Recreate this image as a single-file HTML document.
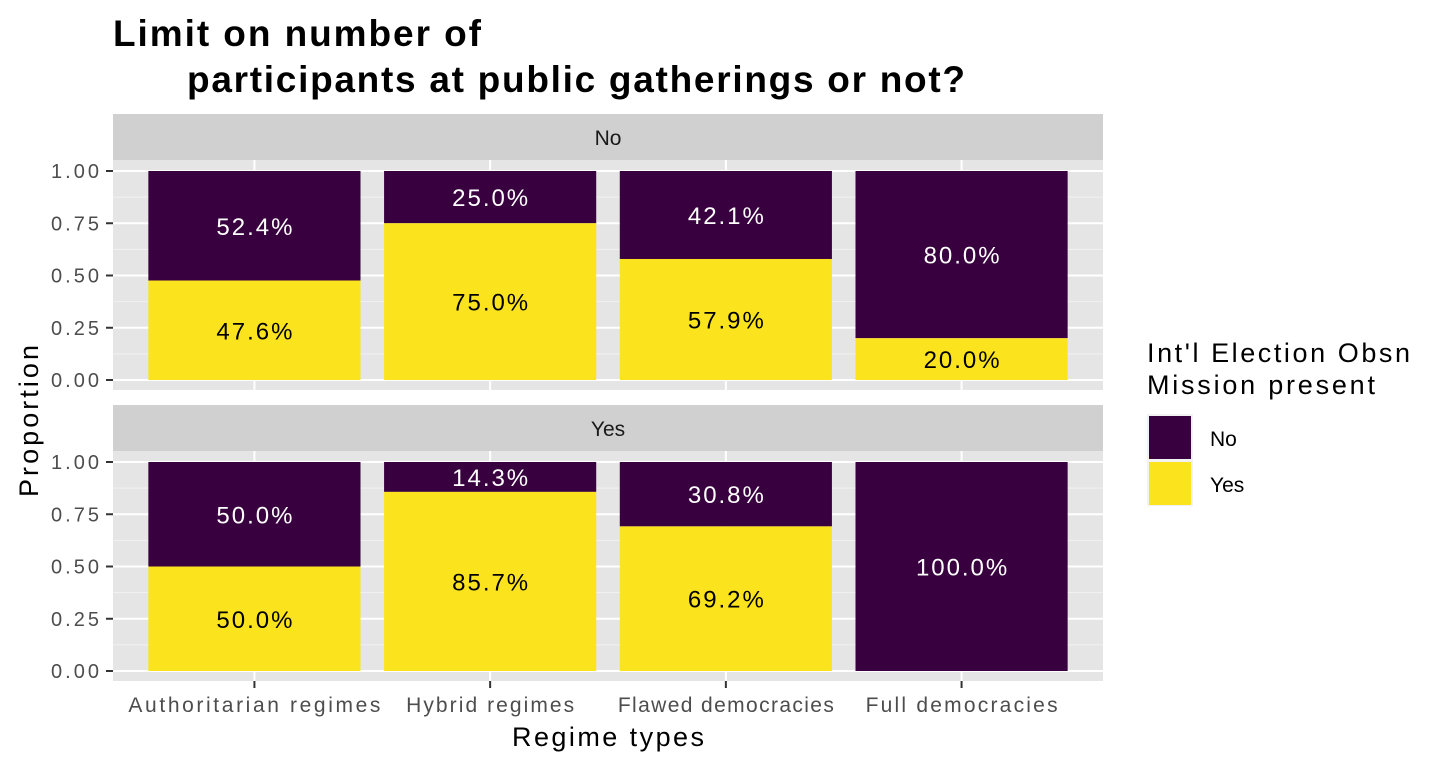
<!DOCTYPE html>
<html><head><meta charset="utf-8"><style>
body{margin:0;background:#fff;}
svg text{font-family:"Liberation Sans",sans-serif;}
</style></head><body>
<svg id="chart" width="1440" height="768" viewBox="0 0 1440 768" xmlns="http://www.w3.org/2000/svg">
<text x="113" y="46" font-size="37" font-weight="bold" fill="#000" textLength="368" lengthAdjust="spacing">Limit on number of</text>
<text x="187" y="92" font-size="37" font-weight="bold" fill="#000" textLength="778" lengthAdjust="spacing">participants at public gatherings or not?</text>
<text transform="translate(38,421) rotate(-90)" text-anchor="middle" font-size="27" fill="#000" textLength="152" lengthAdjust="spacing">Proportion</text>
<text x="608" y="746" text-anchor="middle" font-size="27" fill="#000" textLength="192" lengthAdjust="spacing">Regime types</text>
<g id="legend">
<text x="1147" y="362" font-size="27" fill="#000" textLength="263" lengthAdjust="spacing">Int'l Election Obsn</text>
<text x="1147" y="394" font-size="27" fill="#000" textLength="228" lengthAdjust="spacing">Mission present</text>
<rect x="1147" y="414" width="46" height="46" fill="#f2f2f2"/>
<rect x="1149" y="416" width="42" height="43" fill="#390040"/>
<rect x="1147" y="460" width="46" height="46" fill="#f2f2f2"/>
<rect x="1149" y="462" width="42" height="43" fill="#FBE31E"/>
<text x="1210" y="446" font-size="21" fill="#000">No</text>
<text x="1210" y="492" font-size="21" fill="#000">Yes</text>
</g>
</svg>
<script>
const categories = ["Authoritarian regimes","Hybrid regimes","Flawed democracies","Full democracies"];
const facets = ["No","Yes"];
const yesShareNoFacet = [0.476,0.75,0.579,0.20];
const yesShareYesFacet = [0.50,0.857,0.692,0.0];
const yTicks = [0,0.25,0.5,0.75,1.0];
const yTickLabels = ["0.00","0.25","0.50","0.75","1.00"];

const svg = document.getElementById('chart');
const NS = 'http://www.w3.org/2000/svg';
const PX0 = 113, PX1 = 1103;
const panels = [
  {strip:114, top:160, bottom:390, y0:380, y1:171, data:yesShareNoFacet},
  {strip:405, top:451, bottom:681, y0:671, y1:462, data:yesShareYesFacet}
];
const band = (PX1-PX0)/(categories.length+0.2);
function xCenter(i){ return PX0 + band*(0.6+i); }
function mk(tag, attrs){ const e=document.createElementNS(NS,tag); for(const k in attrs) e.setAttribute(k,attrs[k]); svg.appendChild(e); return e; }
function fmt(v){ return (v*100).toFixed(1)+'%'; }
function lenFor(s, perChar){ return s.length*perChar; }

panels.forEach((p,pi)=>{
  const yScale = v => p.y0 + (p.y1-p.y0)*v;
  let e = mk('rect',{x:PX0,y:p.strip,width:PX1-PX0,height:p.top-p.strip,fill:'#d0d0d0'});
  
  
  e = mk('text',{x:(PX0+PX1)/2,y:p.strip+31,'text-anchor':'middle','font-size':21,fill:'#1a1a1a'});
  e.textContent = facets[pi];
  
  
  e = mk('rect',{x:PX0,y:p.top,width:PX1-PX0,height:p.bottom-p.top,fill:'#e5e5e5'});
  
  
  for(let i=0;i<yTicks.length-1;i++){
    const v=(yTicks[i]+yTicks[i+1])/2;
    e = mk('line',{x1:PX0,x2:PX1,y1:yScale(v),y2:yScale(v),stroke:'#f2f2f2','stroke-width':1});
    
    
  }
  yTicks.forEach((v,i)=>{
    const y=yScale(v);
    e = mk('line',{x1:PX0,x2:PX1,y1:y,y2:y,stroke:'#fff','stroke-width':2});
    
    
    e = mk('line',{x1:PX0-7,x2:PX0,y1:y,y2:y,stroke:'#333','stroke-width':2});
    
    
    e = mk('text',{x:PX0-14,y:y+7,'text-anchor':'end','font-size':20,fill:'#4d4d4d',textLength:48,lengthAdjust:'spacing'});
    e.textContent = yTickLabels[i];
    
    
  });
  categories.forEach((c,i)=>{
    const x=xCenter(i);
    e = mk('line',{x1:x,x2:x,y1:p.top,y2:p.bottom,stroke:'#fff','stroke-width':2});
    
    
  });
  categories.forEach((c,i)=>{
    const x=xCenter(i), w=band*0.9, yes=p.data[i], no=1-yes;
    const yTop=yScale(1), yMid=yScale(yes), yBot=yScale(0);
    if(no>0){
      e = mk('rect',{x:x-w/2,y:yTop,width:w,height:yMid-yTop,fill:'#390040'});
      
      
      const s=fmt(no);
      e = mk('text',{x:x,y:(yTop+yMid)/2+9,'text-anchor':'middle','font-size':24,fill:'#fff',textLength:lenFor(s,15.2),lengthAdjust:'spacing'});
      e.textContent = s;
      
      
    }
    if(yes>0){
      e = mk('rect',{x:x-w/2,y:yMid,width:w,height:yBot-yMid,fill:'#FBE31E'});
      
      
      const s=fmt(yes);
      e = mk('text',{x:x,y:(yMid+yBot)/2+9,'text-anchor':'middle','font-size':24,fill:'#000',textLength:lenFor(s,15.2),lengthAdjust:'spacing'});
      e.textContent = s;
      
      
    }
  });
});
const last = panels[1];
categories.forEach((c,i)=>{
  const x=xCenter(i);
  let e = mk('line',{x1:x,x2:x,y1:last.bottom,y2:last.bottom+7,stroke:'#333','stroke-width':2});
  
  
  e = mk('text',{x:x,y:last.bottom+31,'text-anchor':'middle','font-size':21,fill:'#4d4d4d',textLength:lenFor(c,12),lengthAdjust:'spacing'});
  e.textContent = c;
  
  
});
</script>
</body></html>
